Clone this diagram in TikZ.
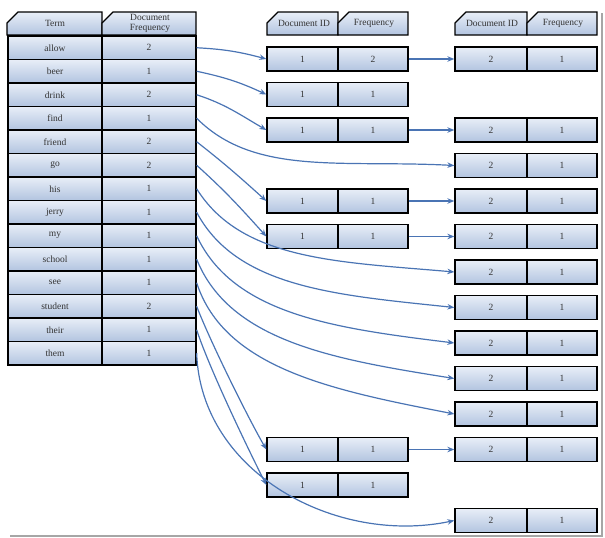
\documentclass[tikz,border=0pt]{standalone}
\usepackage{fontspec}
\setmainfont{Liberation Serif}
\usetikzlibrary{arrows.meta}
\definecolor{boxtop}{HTML}{E8EEF7}
\definecolor{boxbot}{HTML}{B2C4E0}
\definecolor{arrblue}{HTML}{4A74B4}
\definecolor{txt}{HTML}{333333}
\tikzset{
  cell/.style={draw=black, line width=1.3pt, top color=boxtop, bottom color=boxbot,
    inner sep=0pt, text=txt, font=\fontsize{9.5}{10}\selectfont},
  lcell/.style={cell, minimum width=94pt, minimum height=23.5pt},
  hdr/.style={draw=black, line width=1.3pt, top color=boxtop, bottom color=boxbot, line join=miter},
  hlabel/.style={inner sep=0pt, text=txt, align=center, font=\fontsize{9.5}{10}\selectfont},
  arr/.style={draw=arrblue, line width=1.2pt, -{Stealth[length=7pt,width=5.5pt]}},
}
\begin{document}
\begin{tikzpicture}[x=1pt,y=1pt]
\useasboundingbox (0,0) rectangle (605,-538);
% page frame shadow
\draw[gray!70, line width=1.5pt] (10,-536) -- (602,-536) -- (602,-13);
% headers
\draw[hdr] (7,-35) -- (7,-23) -- (18,-12) -- (102,-12) -- (102,-35) -- cycle;
\draw[hdr] (102,-35) -- (102,-23) -- (113,-12) -- (196,-12) -- (196,-35) -- cycle;
\node[hlabel] (hterm) at (55,-23.5) {Term};
\node[hlabel] (hdf) at (150,-23.5) {Document\\Frequency};
\draw[hdr] (267,-35) -- (267,-23) -- (278,-12) -- (338,-12) -- (338,-35) -- cycle;
\draw[hdr] (338,-35) -- (338,-23) -- (349,-12) -- (408,-12) -- (408,-35) -- cycle;
\node[hlabel] (hmid) at (304,-23.5) {Document ID};
\node[hlabel] (hmf) at (374,-23.5) {Frequency};
\draw[hdr] (455,-35) -- (455,-23) -- (466,-12) -- (527,-12) -- (527,-35) -- cycle;
\draw[hdr] (527,-35) -- (527,-23) -- (538,-12) -- (597,-12) -- (597,-35) -- cycle;
\node[hlabel] (hrid) at (492,-23.5) {Document ID};
\node[hlabel] (hrf) at (563,-23.5) {Frequency};
% left table
\foreach \t/\f [count=\i from 0] in {allow/2,beer/1,drink/2,find/1,friend/2,go/2,his/1,jerry/1,my/1,school/1,see/1,student/2,their/1,them/1}{
  \node[lcell] (t\i) at (55,{-47.75-23.5*\i}) {\t};
  \node[lcell] (f\i) at (149,{-47.75-23.5*\i}) {\f};
}
% middle postings
\foreach \k in {0,1,2,4,5,11,12}{
  \node[cell, minimum width=71pt, minimum height=24pt] (m\k a) at (302.5,{-59-35.5*\k}) {1};
}
\foreach \k/\v in {0/2,1/1,2/1,4/1,5/1,11/1,12/1}{
  \node[cell, minimum width=70pt, minimum height=24pt] (m\k b) at (373,{-59-35.5*\k}) {\v};
}
% right postings
\foreach \k in {0,2,3,4,5,6,7,8,9,10,11,13}{
  \node[cell, minimum width=72pt, minimum height=24pt] (r\k a) at (491,{-59-35.5*\k}) {2};
  \node[cell, minimum width=70pt, minimum height=24pt] (r\k b) at (562,{-59-35.5*\k}) {1};
}
% links middle -> right
\foreach \k in {0,2,4,5,11}{
  \draw[arr] (m\k b.east) -- (r\k a.west);
}
% term arrows
\draw[arr] (f0.east) to[out=-3,in=165] (m0a.west);
\draw[arr] (f1.east) to[out=-12,in=155] (m1a.west);
\draw[arr] (f2.east) to[out=-18,in=150] (m2a.west);
\draw[arr] (f3.east) to[out=-45,in=177,out looseness=0.8,in looseness=1.1] (r3a.west);
\draw[arr] (f4.east) to[out=-38,in=138] (m4a.west);
\draw[arr] (f5.east) to[out=-42,in=132] (m5a.west);
\draw[arr] (f6.east) to[out=-58,in=175,out looseness=0.8,in looseness=1.1] (r6a.west);
\draw[arr] (f7.east) to[out=-62,in=174,out looseness=0.8,in looseness=1.1] (r7a.west);
\draw[arr] (f8.east) to[out=-65,in=173,out looseness=0.8,in looseness=1.1] (r8a.west);
\draw[arr] (f9.east) to[out=-68,in=171,out looseness=0.8,in looseness=1.1] (r9a.west);
\draw[arr] (f10.east) to[out=-72,in=169,out looseness=0.8,in looseness=1.1] (r10a.west);
\draw[arr] (f11.east) to[out=-69,in=120,looseness=0.6] (m11a.west);
\draw[arr] (f12.east) to[out=-72,in=117,looseness=0.6] (m12a.west);
\draw[arr] (f13.east) to[out=-88,in=192] (r13a.west);
\end{tikzpicture}
\end{document}
